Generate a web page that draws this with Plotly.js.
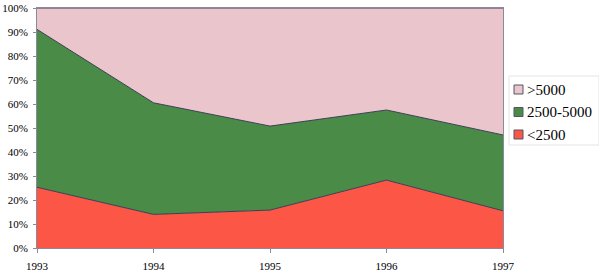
<!DOCTYPE html>
<html>
<head>
<meta charset="utf-8">
<script src="https://cdn.plot.ly/plotly-3.0.1.min.js"></script>
<style>html,body{margin:0;padding:0;background:#fff;}#chart{width:599px;height:273px;}</style>
</head>
<body>
<div id="chart"></div>
<script>
const years = [1993, 1994, 1995, 1996, 1997];
const seriesNames = ['<2500', '2500-5000', '>5000'];
const low = [25.3, 14.0, 15.8, 28.3, 15.5];
const mid = [65.8, 46.5, 35.0, 29.2, 31.6];
const high = [8.9, 39.5, 49.2, 42.5, 52.9];
const yTicks = [0, 10, 20, 30, 40, 50, 60, 70, 80, 90, 100];

const colors = ['#FC5646', '#4A8B47', '#EAC6CC'];
const values = [low, mid, high];
const lineColor = '#3C3C55';

const traces = values.map((v, i) => ({
  x: years, y: v, name: seriesNames[i], type: 'scatter', mode: 'lines',
  stackgroup: 'one', fillcolor: colors[i],
  line: {color: lineColor, width: 1}
}));

const W = 599, H = 273;
const M = {l: 37, r: 96, t: 8, b: 25};
const pw = W - M.l - M.r, ph = H - M.t - M.b;
const px = x => (x - M.l) / pw;       // pixel -> paper x
const py = y => (H - M.b - y) / ph;   // pixel -> paper y

const serif = '"Liberation Serif", "Times New Roman", Times, serif';
const font = {family: serif, size: 11, color: '#000'};

// Legend (drawn as shapes + annotations so it fits the right margin)
const shapes = [{
  type: 'rect', xref: 'paper', yref: 'paper',
  x0: px(509), x1: px(599), y0: py(145), y1: py(76),
  line: {color: '#e4e4e4', width: 1}, fillcolor: '#fff', layer: 'above'
}];
const annotations = [];
const order = [2, 1, 0];
const rowY = [89.5, 112, 134.5];
order.forEach((si, k) => {
  const cy = rowY[k];
  shapes.push({
    type: 'rect', xref: 'paper', yref: 'paper',
    x0: px(514), x1: px(523), y0: py(cy + 4.5), y1: py(cy - 4.5),
    line: {color: '#555566', width: 1}, fillcolor: colors[si], layer: 'above'
  });
  annotations.push({
    xref: 'paper', yref: 'paper', x: px(525), y: py(cy),
    xanchor: 'left', yanchor: 'middle', showarrow: false,
    text: seriesNames[si].replace('<', '&lt;').replace('>', '&gt;'),
    font: {family: serif, size: 15, color: '#000'}
  });
});

const layout = {
  width: W, height: H,
  margin: M,
  paper_bgcolor: '#fff', plot_bgcolor: '#fff',
  font: font,
  showlegend: false,
  shapes: shapes,
  annotations: annotations,
  xaxis: {
    range: [1993, 1997], tickvals: years, ticktext: years.map(String),
    showgrid: false, zeroline: false,
    showline: true, mirror: true, linecolor: '#8a8a9c', linewidth: 1,
    ticks: 'outside', ticklen: 4, tickcolor: '#8a8a9c',
    ticklabelstandoff: 4,
    tickfont: font
  },
  yaxis: {
    range: [0, 100], tickvals: yTicks, ticktext: yTicks.map(t => t + '%'),
    showgrid: false, zeroline: false,
    showline: true, mirror: true, linecolor: '#8a8a9c', linewidth: 1,
    ticks: 'outside', ticklen: 3, tickcolor: '#8a8a9c',
    ticklabelstandoff: 3,
    tickfont: font
  }
};

Plotly.newPlot('chart', traces, layout, {displayModeBar: false, staticPlot: true});
</script>
</body>
</html>
